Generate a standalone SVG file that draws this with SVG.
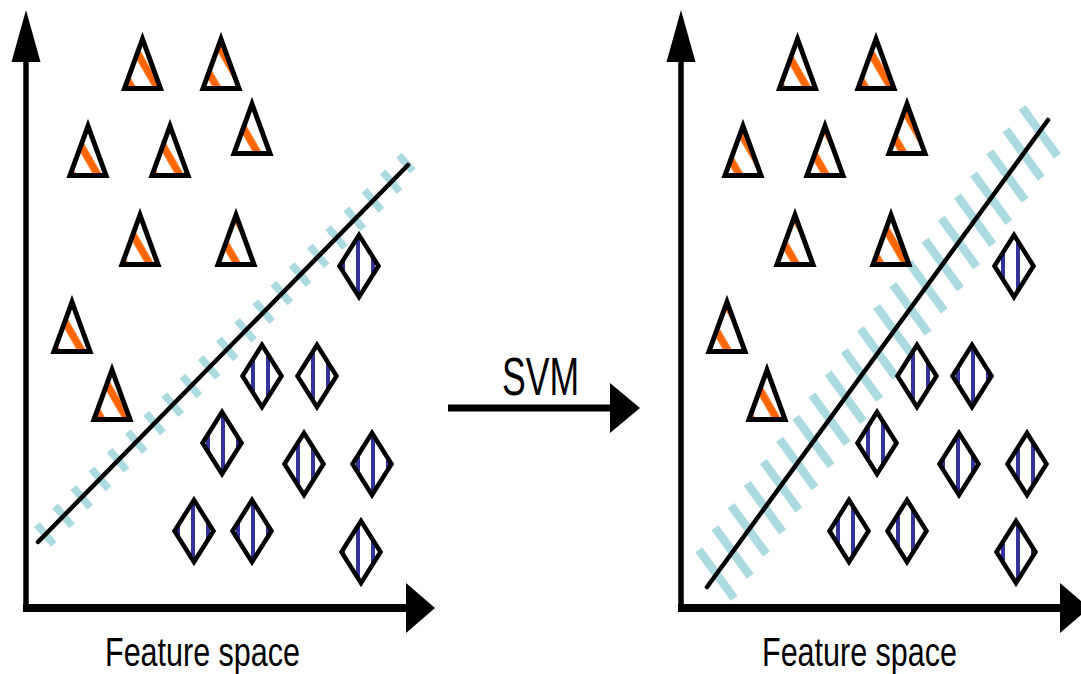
<svg xmlns="http://www.w3.org/2000/svg" width="1081" height="674" viewBox="0 0 1081 674">
<style>
.tri{stroke:#000;stroke-width:5;stroke-linejoin:miter;stroke-miterlimit:12}
.dia{fill:url(#blue);stroke:#000;stroke-width:4.5;stroke-linejoin:miter;stroke-miterlimit:12}
.axis{stroke:#000;fill:none}
.head{fill:#000;stroke:none}
.sep{stroke:#000;stroke-width:4.5;stroke-linecap:round;fill:none}
.band{stroke:#abdbe0;fill:none;stroke-linecap:butt}
.label{font-family:"Liberation Sans",Arial,sans-serif;fill:#000}
</style>
<defs>
<pattern id="blue" patternUnits="userSpaceOnUse" width="15" height="15">
<rect width="15" height="15" fill="#fff"/>
<rect x="11" width="4" height="15" fill="#333399"/>
</pattern>
<pattern id="p0" patternUnits="userSpaceOnUse" width="22" height="22" patternTransform="rotate(-30) translate(-8.5 0)">
<rect width="22" height="22" fill="#fff"/><rect x="7.25" width="7.5" height="22" fill="#ff6600"/>
</pattern>
<pattern id="p1" patternUnits="userSpaceOnUse" width="22" height="22" patternTransform="rotate(-30) translate(-4 0)">
<rect width="22" height="22" fill="#fff"/><rect x="7.25" width="7.5" height="22" fill="#ff6600"/>
</pattern>
<pattern id="p2" patternUnits="userSpaceOnUse" width="22" height="22" patternTransform="rotate(-30) translate(2 0)">
<rect width="22" height="22" fill="#fff"/><rect x="7.25" width="7.5" height="22" fill="#ff6600"/>
</pattern>
<pattern id="p3" patternUnits="userSpaceOnUse" width="22" height="22" patternTransform="rotate(-30) translate(6 0)">
<rect width="22" height="22" fill="#fff"/><rect x="7.25" width="7.5" height="22" fill="#ff6600"/>
</pattern>
<pattern id="p4" patternUnits="userSpaceOnUse" width="22" height="22" patternTransform="rotate(-30) translate(10 0)">
<rect width="22" height="22" fill="#fff"/><rect x="7.25" width="7.5" height="22" fill="#ff6600"/>
</pattern>
<polygon id="triShape" points="0,7 18,56.5 -18,56.5"/>
</defs>
<rect width="1081" height="674" fill="#fff"/>

<g id="connectors">
<path class="band" stroke-width="7.5" d="M36.90,524.62L53.80,544.38M55.10,506.06L72.00,525.82M73.30,487.50L90.20,507.26M91.50,468.93L108.40,488.69M109.70,450.37L126.60,470.13M127.90,431.80L144.80,451.56M146.10,413.24L163.00,433.00M164.30,394.68L181.20,414.44M182.50,376.11L199.40,395.87M200.70,357.55L217.60,377.31M218.90,338.98L235.80,358.74M237.10,320.42L254.00,340.18M255.30,301.86L272.20,321.62M273.50,283.29L290.40,303.05M291.70,264.73L308.60,284.49M309.90,246.16L326.80,265.92M328.10,227.60L345.00,247.36M346.30,209.04L363.20,228.80M364.50,190.47L381.40,210.23M382.70,171.91L399.60,191.67M398.90,155.34L412.80,171.10"/>
<path class="band" stroke-width="8.5" d="M698.77,549.85L734.11,598.33M714.94,527.74L750.28,576.22M731.10,505.62L766.44,554.10M747.27,483.51L782.61,531.99M763.43,461.40L798.77,509.88M779.60,439.29L814.94,487.77M795.77,417.18L831.11,465.66M811.93,395.07L847.27,443.55M828.10,372.95L863.44,421.43M844.26,350.84L879.60,399.32M860.43,328.73L895.77,377.21M876.60,306.62L911.94,355.10M892.76,284.51L928.10,332.99M908.93,262.40L944.27,310.88M925.09,240.28L960.43,288.76M941.26,218.17L976.60,266.65M957.43,196.06L992.77,244.54M973.59,173.95L1008.93,222.43M989.76,151.84L1025.10,200.32M1005.92,129.73L1041.26,178.21M1022.09,107.61L1057.43,156.09"/>
<line class="sep" x1="38" y1="542" x2="408" y2="165"/>
<line class="sep" x1="707" y1="587" x2="1048" y2="120" stroke-width="4"/>

<line class="axis" x1="26" y1="55" x2="26" y2="611" stroke-width="5.5"/>
<line class="axis" x1="23" y1="608" x2="410" y2="608" stroke-width="8"/>
<polygon class="head" points="26,10 11.5,62 40.5,62"/>
<polygon class="head" points="406,583 435,608 406,633"/>
<line class="axis" x1="681" y1="55" x2="681" y2="611" stroke-width="5.5"/>
<line class="axis" x1="678" y1="608" x2="1064" y2="608" stroke-width="8"/>
<polygon class="head" points="681,10 666.5,62 695.5,62"/>
<polygon class="head" points="1060,583 1089,608 1060,633"/>

<line class="axis" x1="448" y1="408" x2="613" y2="408" stroke-width="7"/>
<polygon class="head" points="610,383 640,408 610,433"/>
</g>

<g id="tri-L1"><use href="#triShape" class="tri" fill="url(#p1)" x="142.5" y="32"/></g>
<g id="tri-L2"><use href="#triShape" class="tri" fill="url(#p2)" x="221" y="32"/></g>
<g id="tri-L3"><use href="#triShape" class="tri" fill="url(#p0)" x="88" y="119"/></g>
<g id="tri-L4"><use href="#triShape" class="tri" fill="url(#p0)" x="170" y="119"/></g>
<g id="tri-L5"><use href="#triShape" class="tri" fill="url(#p4)" x="252" y="97"/></g>
<g id="tri-L6"><use href="#triShape" class="tri" fill="url(#p0)" x="140" y="208"/></g>
<g id="tri-L7"><use href="#triShape" class="tri" fill="url(#p3)" x="236" y="208"/></g>
<g id="tri-L8"><use href="#triShape" class="tri" fill="url(#p0)" x="72" y="295"/></g>
<g id="tri-L9"><use href="#triShape" class="tri" fill="url(#p1)" x="112" y="363"/></g>

<g id="dia-L1"><polygon class="dia" points="359,235 378.5,266 359,297 339.5,266"/></g>
<g id="dia-L2"><polygon class="dia" points="262,345 281.5,376 262,407 242.5,376"/></g>
<g id="dia-L3"><polygon class="dia" points="317,345 336.5,376 317,407 297.5,376"/></g>
<g id="dia-L4"><polygon class="dia" points="222,412 241.5,443 222,474 202.5,443"/></g>
<g id="dia-L5"><polygon class="dia" points="304,433 323.5,464 304,495 284.5,464"/></g>
<g id="dia-L6"><polygon class="dia" points="372,433 391.5,464 372,495 352.5,464"/></g>
<g id="dia-L7"><polygon class="dia" points="194,500 213.5,531 194,562 174.5,531"/></g>
<g id="dia-L8"><polygon class="dia" points="252,500 271.5,531 252,562 232.5,531"/></g>
<g id="dia-L9"><polygon class="dia" points="361,521 380.5,552 361,583 341.5,552"/></g>

<g id="tri-R1"><use href="#triShape" class="tri" fill="url(#p0)" x="797.5" y="32"/></g>
<g id="tri-R2"><use href="#triShape" class="tri" fill="url(#p1)" x="876" y="32"/></g>
<g id="tri-R3"><use href="#triShape" class="tri" fill="url(#p2)" x="743" y="119"/></g>
<g id="tri-R4"><use href="#triShape" class="tri" fill="url(#p3)" x="825" y="119"/></g>
<g id="tri-R5"><use href="#triShape" class="tri" fill="url(#p2)" x="907" y="97"/></g>
<g id="tri-R6"><use href="#triShape" class="tri" fill="url(#p3)" x="795" y="208"/></g>
<g id="tri-R7"><use href="#triShape" class="tri" fill="url(#p1)" x="891" y="208"/></g>
<g id="tri-R8"><use href="#triShape" class="tri" fill="url(#p3)" x="727" y="295"/></g>
<g id="tri-R9"><use href="#triShape" class="tri" fill="url(#p0)" x="767" y="363"/></g>

<g id="dia-R1"><polygon class="dia" points="1014,235 1033.5,266 1014,297 994.5,266"/></g>
<g id="dia-R2"><polygon class="dia" points="917,345 936.5,376 917,407 897.5,376"/></g>
<g id="dia-R3"><polygon class="dia" points="972,345 991.5,376 972,407 952.5,376"/></g>
<g id="dia-R4"><polygon class="dia" points="877,412 896.5,443 877,474 857.5,443"/></g>
<g id="dia-R5"><polygon class="dia" points="959,433 978.5,464 959,495 939.5,464"/></g>
<g id="dia-R6"><polygon class="dia" points="1027,433 1046.5,464 1027,495 1007.5,464"/></g>
<g id="dia-R7"><polygon class="dia" points="849,500 868.5,531 849,562 829.5,531"/></g>
<g id="dia-R8"><polygon class="dia" points="907,500 926.5,531 907,562 887.5,531"/></g>
<g id="dia-R9"><polygon class="dia" points="1016,521 1035.5,552 1016,583 996.5,552"/></g>

<g id="labels">
<text class="label" x="502" y="395" font-size="54" textLength="77" lengthAdjust="spacingAndGlyphs">SVM</text>
<text class="label" x="105" y="666" font-size="40" textLength="195" lengthAdjust="spacingAndGlyphs">Feature space</text>
<text class="label" x="762" y="666" font-size="40" textLength="195" lengthAdjust="spacingAndGlyphs">Feature space</text>
</g>
</svg>
